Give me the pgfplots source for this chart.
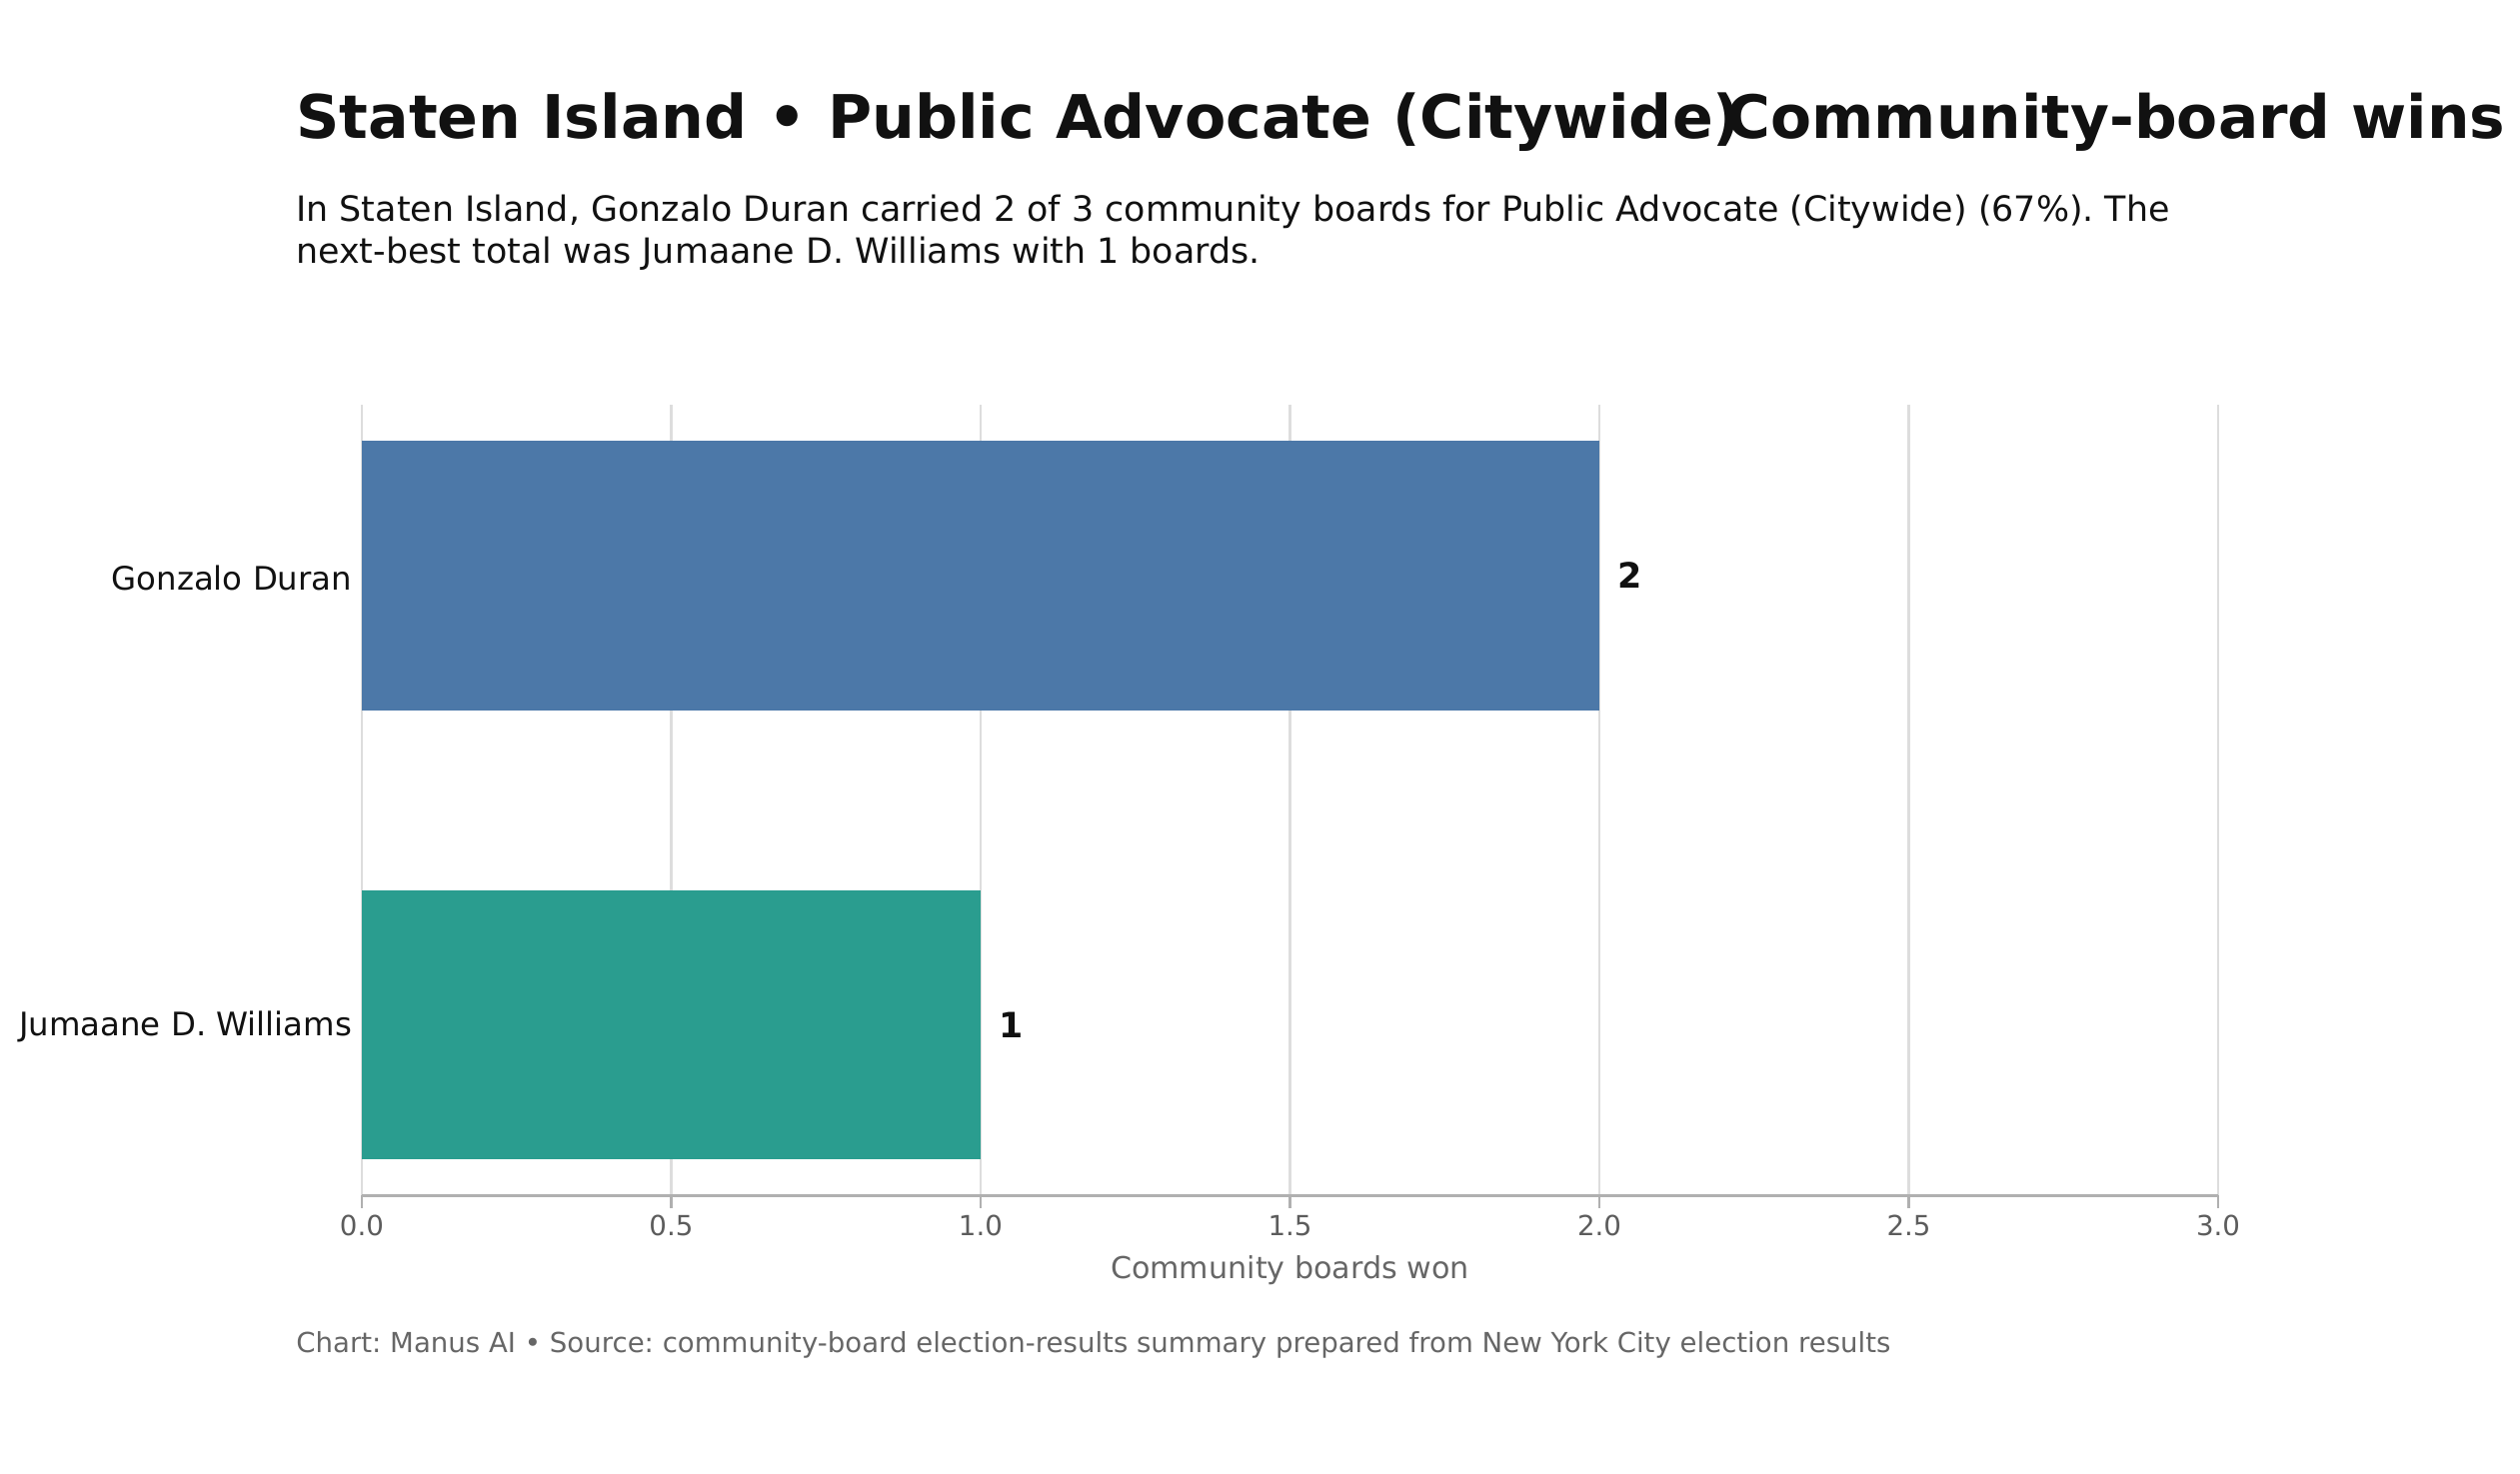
\documentclass[border=0pt]{standalone}
\usepackage{pgfplots}
\pgfplotsset{compat=1.18}
\usepackage{fontspec}
\setmainfont{DejaVu Sans}
\definecolor{duran}{HTML}{4C78A8}
\definecolor{williams}{HTML}{2A9D8F}
\definecolor{ink}{HTML}{111111}
\definecolor{muted}{HTML}{666666}
\definecolor{gridc}{HTML}{DDDDDD}
\definecolor{spine}{HTML}{B0B0B0}
\begin{document}
\frenchspacing
\begin{tikzpicture}
\useasboundingbox (0bp,0bp) rectangle (907.6bp,530.9bp);
% titles
\node[anchor=base west, inner sep=0, text=ink, font=\fontsize{21.75}{26}\selectfont\bfseries]
  at (106.5bp,481.1bp) {Staten Island • Public Advocate (Citywide)};
\node[anchor=base west, inner sep=0, text=ink, font=\fontsize{21.6}{26}\selectfont\bfseries]
  at (621.8bp,481.1bp) {Community-board wins};
\node[anchor=base west, inner sep=0, text=ink, font=\fontsize{12.6}{15}\selectfont]
  at (106.5bp,451.0bp) {In Staten Island, Gonzalo Duran carried 2 of 3 community boards for Public Advocate (Citywide) (67\%). The};
\node[anchor=base west, inner sep=0, text=ink, font=\fontsize{12.6}{15}\selectfont]
  at (106.5bp,436.0bp) {next-best total was Jumaane D. Williams with 1 boards.};
\node[anchor=base west, inner sep=0, text=muted, font=\fontsize{9.97}{12}\selectfont]
  at (106.5bp,43.7bp) {Chart: Manus AI • Source: community-board election-results summary prepared from New York City election results};

\begin{axis}[
    at={(130.3bp,100.2bp)},
    anchor=south west,
    scale only axis,
    width=668.6bp,
    height=284.8bp,
    xbar,
    bar width=0.6,
    xmin=0, xmax=3,
    ymin=-0.38, ymax=1.38,
    xtick={0,0.5,...,3},
    ytick={0,1},
    yticklabels={Jumaane D. Williams, Gonzalo Duran},
    /pgf/number format/assume math mode=true,
    xticklabel={\pgfmathprintnumber[fixed,fixed zerofill,precision=1]{\tick}},
    xticklabel style={font=\fontsize{10}{12}\selectfont, text=muted!90!black, anchor=base, yshift=-10bp},
    yticklabel style={font=\fontsize{11.7}{14}\selectfont, text=ink, anchor=east, xshift=4.5bp, yshift=-0.8bp},
    xlabel={Community boards won},
    xlabel style={font=\fontsize{10.9}{13}\selectfont, text=muted, at={(axis description cs:0.5,0)}, anchor=base, yshift=-29.8bp},
    axis x line*=bottom,
    axis y line*=left,
    x axis line style={draw=spine, line width=0.9pt},
    y axis line style={draw=none},
    xmajorgrids,
    major grid style={draw=gridc, line width=0.8pt},
    major tick length=4.5bp,
    xtick style={draw=spine, line width=0.8pt},
    ytick style={draw=none},
    tick align=outside,
    clip=false,
    nodes near coords,
    every node near coord/.append style={font=\fontsize{12.6}{15}\selectfont\bfseries, text=ink, anchor=west, xshift=3bp},
]
\addplot[fill=duran, draw=none, bar shift=0pt] coordinates {(2,1)};
\addplot[fill=williams, draw=none, bar shift=0pt] coordinates {(1,0)};
\end{axis}
\end{tikzpicture}
\end{document}
